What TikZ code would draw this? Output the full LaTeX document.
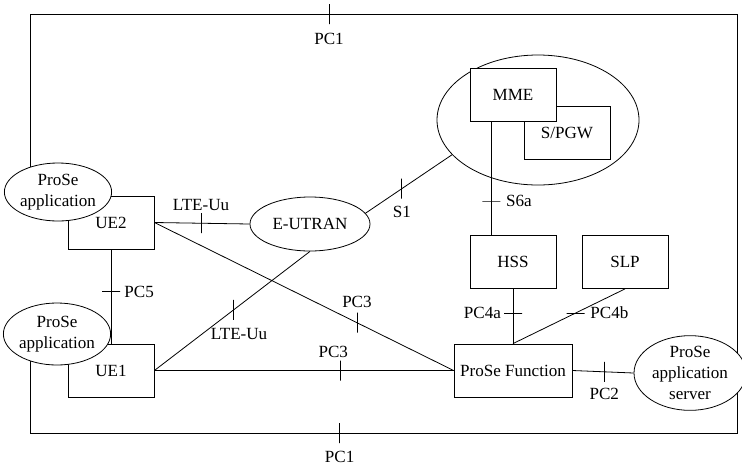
\documentclass[tikz,border=0pt]{standalone}
\usepackage{fontspec}
\setmainfont{Liberation Serif}
\usetikzlibrary{shapes.geometric, positioning, calc, backgrounds}

\begin{document}
\begin{tikzpicture}[
    x=0.75pt, y=-0.75pt,
    line width=0.6pt,
    every node/.style={font=\fontsize{12.8}{15.5}\selectfont},
    box/.style={rectangle, draw, fill=white, minimum width=64.5pt, minimum height=39.75pt, inner sep=0pt, align=center},
    app/.style={ellipse, draw, fill=white, inner sep=0pt, align=center},
    vtick/.style={rectangle, draw, minimum width=0pt, minimum height=15pt, inner sep=0pt, outer sep=0pt},
    htick/.style={rectangle, draw, minimum width=13.5pt, minimum height=0pt, inner sep=0pt, outer sep=0pt},
    lbl/.style={inner sep=2pt}
]
\useasboundingbox (0,0) rectangle (742,465);

% Core network
\node[app, minimum width=151.5pt, minimum height=97.5pt] (core) at (538,120) {};
\node[box] (spgw) at (567,132.5) {S/PGW};
\node[box] (mme) at (513,94.5) {MME};
\node[box] (hss) at (513,262) {HSS};
\node[box] (slp) at (625,262) {SLP};
\node[box, minimum width=88.5pt] (pf) at (513,370.5) {ProSe Function};
\node[app, minimum width=84pt, minimum height=52.5pt] (server) at (690,373) {ProSe\\application\\server};
\node[app, minimum width=90pt, minimum height=40.5pt] (eutran) at (310,224) {E-UTRAN};

% UEs and their applications
\node[box] (ue2) at (111,222.5) {UE2};
\node[box] (ue1) at (111,370.5) {UE1};
\node[app, minimum width=73.5pt, minimum height=43.5pt] (app2) at (58,192) {ProSe\\application};
\node[app, minimum width=73.5pt, minimum height=46.5pt] (app1) at (57,334) {ProSe\\application};

% Frame corners
\coordinate (nw) at (30,14);
\coordinate (ne) at (737,14);
\coordinate (sw) at (30,433);
\coordinate (se) at (737,433);

% Reference points
\draw (ue2.east) -- node[vtick, pos=0.49, label={[lbl, label distance=0pt]above:LTE-Uu}] {} (eutran.west);
\draw (ue2.east) -- node[vtick, pos=0.677, label={[lbl, label distance=1.5pt]above:PC3}] {} (pf.west);
\draw (ue1.east) -- node[vtick, pos=0.51, label={[lbl, label distance=4pt, xshift=4pt]below:LTE-Uu}] {} (eutran.south);
\draw (ue1) -- node[vtick, pos=0.62, label={[lbl, label distance=0pt, xshift=-5pt]above:PC3}] {} (pf);
\draw (ue2) -- node[htick, pos=0.45, label={[lbl, label distance=1pt]right:PC5}] {} (ue1);
\draw (eutran.11) -- node[vtick, pos=0.42, label={[lbl, label distance=3pt]below:S1}] {} (core.202);
\draw ($(mme.south west)!0.25!(mme.south east)$) -- node[htick, pos=0.70, label={[lbl, label distance=2pt]right:S6a}] {} ($(hss.north west)!0.25!(hss.north east)$);
\draw (hss) -- node[htick, pos=0.44, label={[lbl, label distance=0pt]left:PC4a}] {} (pf);
\draw (slp.south) -- node[htick, pos=0.44, label={[lbl, label distance=2pt]right:PC4b}] {} (pf.north);
\draw (pf.east) -- node[vtick, pos=0.52, label={[lbl, label distance=2.5pt]below:PC2}] {} (server.west);

% PC1 frame
\begin{scope}[on background layer]
\draw (nw |- app2) -- (nw) -- node[vtick, pos=0.423, label={[lbl, label distance=5pt]below:PC1}] {} (ne) -- (ne |- server);
\draw (sw |- app1) -- (sw) -- node[vtick, pos=0.438, label={[lbl, label distance=4pt]below:PC1}] {} (se) -- (se |- server);
\end{scope}

\end{tikzpicture}
\end{document}
